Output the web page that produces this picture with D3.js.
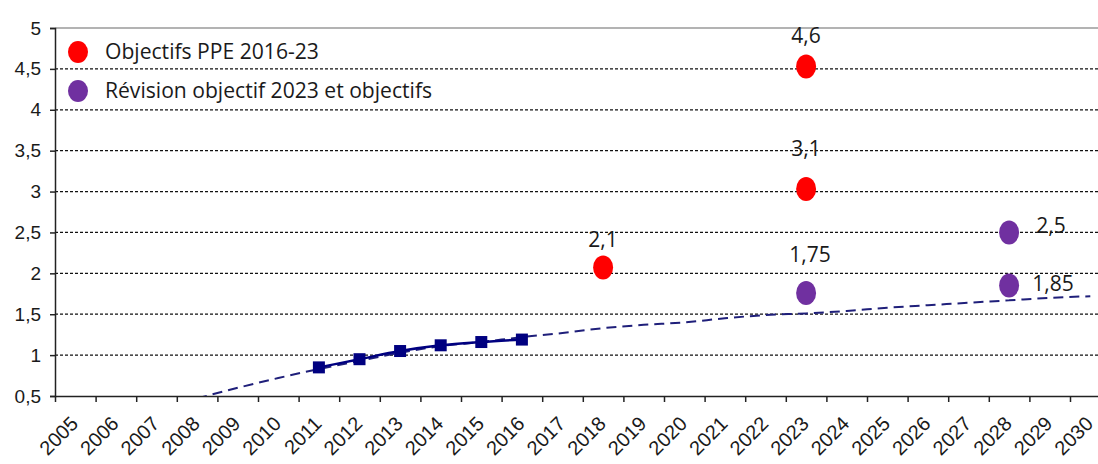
<!DOCTYPE html>
<html>
<head>
<meta charset="utf-8">
<script src="https://cdn.jsdelivr.net/npm/d3@7"></script>
<style>
  body { margin: 0; background: #fff; }
  svg { display: block; }
</style>
</head>
<body>
<svg id="chart" width="1098" height="464"></svg>
<script>
// categories on the x axis
var years = d3.range(2005, 2031).map(String);

// measured production (squares)
var histYears = ["2011", "2012", "2013", "2014", "2015", "2016"];
var histValues = [0.85, 0.95, 1.05, 1.12, 1.16, 1.19];

// dashed trend line, read year by year
var trendYears = ["2008", "2009", "2010", "2011", "2012", "2013", "2014", "2015", "2016", "2017", "2018", "2019",
                  "2020", "2021", "2022", "2023", "2024", "2025", "2026", "2027", "2028", "2029", "2030"];
var trendValues = [0.47, 0.60, 0.72, 0.83, 0.93, 1.03, 1.11, 1.16, 1.22, 1.27, 1.33, 1.37,
                   1.40, 1.45, 1.49, 1.51, 1.54, 1.58, 1.61, 1.64, 1.67, 1.70, 1.72];

// Objectifs PPE 2016-23 (red)
var ppeYears = ["2018", "2023", "2023"];
var ppeValues = [2.07, 4.53, 3.03];
var ppeLabels = ["2,1", "4,6", "3,1"];

// Révision objectif 2023 et objectifs (purple)
var revYears = ["2023", "2028", "2028"];
var revValues = [1.76, 2.5, 1.85];
var revLabels = ["1,75", "2,5", "1,85"];

var yTicks = d3.range(0.5, 5.01, 0.5);
var legendItems = ["Objectifs PPE 2016-23", "Révision objectif 2023 et objectifs"];

var red = "#ff0000",
    purple = "#7030a0",
    navy = "#000080";

var svg = d3.select("#chart"),
    width = +svg.attr("width"),
    mLeft = 55, mTop = 28, mBottom = 396,
    step = 40.6;

var x = d3.scaleBand().domain(years).range([mLeft, mLeft + step * years.length]).padding(0),
    xi = d3.scaleLinear().domain([0, years.length]).range([mLeft, mLeft + step * years.length]),
    y = d3.scaleLinear().domain([0.5, 5]).range([mBottom, mTop]);

function cx(yr) { return x(yr) + x.bandwidth() / 2; }
function fmt(d) { return String(+d.toFixed(1)).replace(".", ","); }

svg.append("defs").append("clipPath").attr("id", "plot")
    .append("rect").attr("x", mLeft).attr("y", mTop).attr("width", width - mLeft).attr("height", mBottom - mTop);

// gridlines (dashed), top border grey
svg.append("g").selectAll("line")
    .data(yTicks.filter(function(d){ return d > 0.5 && d < 5; }))
    .join("line")
    .attr("x1", mLeft).attr("x2", width)
    .attr("y1", function(d){ return y(d); }).attr("y2", function(d){ return y(d); })
    .attr("stroke", "#111").attr("stroke-width", 1.2).attr("stroke-dasharray", "3,2");

svg.append("line")
    .attr("x1", mLeft).attr("x2", width).attr("y1", y(5)).attr("y2", y(5))
    .attr("stroke", "#9a9a9a").attr("stroke-width", 1.5);

// y axis
var yAxis = svg.append("g")
    .attr("transform", "translate(" + mLeft + ",0)")
    .call(d3.axisLeft(y).tickValues(yTicks).tickFormat(fmt).tickSize(5).tickPadding(9));
yAxis.select(".domain").attr("stroke", "#222").attr("stroke-width", 1.5);
yAxis.selectAll(".tick line").attr("stroke", "#222").attr("stroke-width", 1.5);
yAxis.selectAll("text")
    .attr("font-family", "Liberation Sans, Arial, sans-serif")
    .attr("font-size", 19).attr("fill", "#1a1a1a");

// x axis: ticks between categories
var xAxis = svg.append("g")
    .attr("transform", "translate(0," + mBottom + ")")
    .call(d3.axisBottom(xi).tickValues(d3.range(years.length)).tickFormat("").tickSize(6).tickSizeOuter(0));
xAxis.select(".domain").attr("stroke", "#222").attr("stroke-width", 1.5);
xAxis.selectAll(".tick line").attr("stroke", "#222").attr("stroke-width", 1.5);

svg.append("g").selectAll("text")
    .data(years)
    .join("text")
    .attr("transform", function(d){ return "translate(" + (cx(d) + 4) + "," + (mBottom + 29) + ") rotate(-45)"; })
    .attr("text-anchor", "end")
    .attr("font-family", "Liberation Sans, Arial, sans-serif")
    .attr("font-size", 20).attr("fill", "#1a1a1a")
    .text(function(d){ return d; });

// trend line (dashed)
var plot = svg.append("g").attr("clip-path", "url(#plot)");
var line = d3.line().x(function(d){ return cx(d[0]); }).y(function(d){ return y(d[1]); }).curve(d3.curveMonotoneX);

plot.append("path")
    .datum(d3.zip(trendYears, trendValues))
    .attr("d", line)
    .attr("fill", "none").attr("stroke", "#1f1f7a").attr("stroke-width", 2)
    .attr("stroke-dasharray", "10,6");

// measured series
plot.append("path")
    .datum(d3.zip(histYears, histValues))
    .attr("d", line)
    .attr("fill", "none").attr("stroke", navy).attr("stroke-width", 2.5);

plot.selectAll("rect.sq")
    .data(d3.zip(histYears, histValues))
    .join("rect").attr("class", "sq")
    .attr("x", function(d){ return cx(d[0]) - 6; })
    .attr("y", function(d){ return y(d[1]) - 6; })
    .attr("width", 12).attr("height", 12)
    .attr("fill", navy);

// objective points + labels; label offsets [dx, dy] from the point
var ppeOffsets = [[0, -21], [0, -23], [0, -33]],
    revOffsets = [[4, -31], [42, 1], [44, 5]];

function drawObjectives(yrs, vals, labels, offsets, color){
    var g = svg.append("g");
    g.selectAll("ellipse")
        .data(vals)
        .join("ellipse")
        .attr("cx", function(d, i){ return cx(yrs[i]); })
        .attr("cy", function(d){ return y(d); })
        .attr("rx", 10).attr("ry", 12)
        .attr("fill", color);
    g.selectAll("text")
        .data(labels)
        .join("text")
        .attr("x", function(d, i){ return cx(yrs[i]) + offsets[i][0]; })
        .attr("y", function(d, i){ return y(vals[i]) + offsets[i][1]; })
        .attr("text-anchor", "middle")
        .attr("font-family", "Open Sans, sans-serif")
        .attr("font-size", 21).attr("fill", "#1a1a1a")
        .text(function(d){ return d; });
}
drawObjectives(ppeYears, ppeValues, ppeLabels, ppeOffsets, red);
drawObjectives(revYears, revValues, revLabels, revOffsets, purple);

// legend
var legend = svg.append("g").selectAll("g")
    .data(legendItems)
    .join("g")
    .attr("transform", function(d, i){ return "translate(78," + (52 + i * 39) + ")"; });
legend.append("ellipse")
    .attr("rx", 10).attr("ry", 11)
    .attr("fill", function(d, i){ return i ? purple : red; });
legend.append("text")
    .attr("transform", "translate(27,7) scale(0.96,1)")
    .attr("font-family", "Open Sans, sans-serif")
    .attr("font-size", 22).attr("fill", "#1a1a1a")
    .text(function(d){ return d; });
</script>
</body>
</html>
